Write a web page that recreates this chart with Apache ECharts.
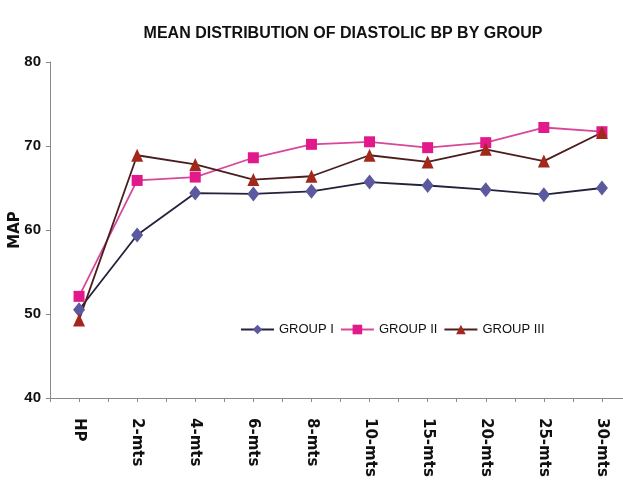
<!DOCTYPE html>
<html>
<head>
<meta charset="utf-8">
<script src="https://cdn.jsdelivr.net/npm/echarts@6/dist/echarts.min.js"></script>
<style>
  html, body { margin: 0; padding: 0; background: #fff; }
  #main { width: 623px; height: 495px; }
</style>
</head>
<body>
<div id="main"></div>
<script>
// time points
var categories = ['HP', '2-mts', '4-mts', '6-mts', '8-mts', '10-mts', '15-mts', '20-mts', '25-mts', '30-mts'];
// mean MAP per group
var group1 = [50.5, 59.4, 64.4, 64.3, 64.6, 65.7, 65.3, 64.8, 64.2, 65.0];
var group2 = [52.1, 65.9, 66.3, 68.6, 70.2, 70.5, 69.8, 70.4, 72.2, 71.7];
var group3 = [49.3, 68.9, 67.8, 66.0, 66.4, 68.9, 68.1, 69.6, 68.2, 71.6];
var yTicks = [40, 50, 60, 70, 80];

window.onload = () => {
    var chartDom = document.getElementById('main');
    var myChart = echarts.init(chartDom);
    var narrow = 'Liberation Sans Narrow, Arial Narrow, Liberation Sans, sans-serif';
    var option;
    option = {
        backgroundColor: '#ffffff',
        title: {
            text: 'MEAN DISTRIBUTION OF DIASTOLIC BP BY GROUP',
            left: 338,
            textAlign: 'center',
            top: 21,
            textStyle: {
                fontFamily: narrow,
                fontWeight: 'bold',
                fontSize: 16,
                color: '#111'
            }
        },
        legend: {
            left: 235,
            top: 318,
            itemWidth: 33,
            itemHeight: 12,
            itemGap: 6,
            textStyle: {
                fontFamily: narrow,
                fontSize: 13,
                color: '#111'
            },
            data: ['GROUP I', 'GROUP II', 'GROUP III']
        },
        grid: {
            left: 50,
            right: -8,
            top: 62,
            bottom: 97,
            outerBoundsMode: 'none',
            containLabel: false
        },
        xAxis: [{
            type: 'category',
            boundaryGap: true,
            data: categories,
            axisLine: { lineStyle: { color: '#8a8a8a', width: 1 } },
            axisTick: { show: true, interval: 0, length: 4, lineStyle: { color: '#8a8a8a' } },
            axisLabel: {
                interval: 0,
                rotate: -90,
                margin: 20,
                fontFamily: 'DejaVu Sans, sans-serif',
                fontWeight: 'bold',
                fontSize: 15,
                color: '#111'
            }
        }, {
            type: 'category',
            boundaryGap: true,
            position: 'bottom',
            data: categories,
            axisLine: { show: false },
            axisTick: { show: true, alignWithLabel: true, interval: 0, length: 4, lineStyle: { color: '#8a8a8a' } },
            axisLabel: { show: false }
        }],
        yAxis: [{
            type: 'value',
            min: yTicks[0],
            max: yTicks[yTicks.length - 1],
            interval: 10,
            name: 'MAP',
            nameLocation: 'middle',
            nameGap: 27,
            nameMoveOverlap: false,
            nameTextStyle: {
                fontFamily: 'DejaVu Sans, sans-serif',
                fontWeight: 'bold',
                fontSize: 15,
                color: '#111'
            },
            splitLine: { show: false },
            axisLine: { show: true, lineStyle: { color: '#8a8a8a', width: 1 } },
            axisTick: { show: true, length: 4, lineStyle: { color: '#8a8a8a' } },
            axisLabel: {
                margin: 9,
                fontFamily: narrow,
                fontWeight: 'bold',
                fontSize: 15,
                color: '#111'
            }
        }],
        series: [{
                name: 'GROUP I',
                type: 'line',
                data: group1,
                symbol: 'diamond',
                symbolSize: [12, 15],
                itemStyle: { color: '#5b5a9e' },
                lineStyle: { color: '#23223a', width: 1.8 }
            },
            {
                name: 'GROUP II',
                type: 'line',
                data: group2,
                symbol: 'rect',
                symbolSize: 11,
                itemStyle: { color: '#e2198b' },
                lineStyle: { color: '#d8489a', width: 1.8 }
            },
            {
                name: 'GROUP III',
                type: 'line',
                data: group3,
                symbol: 'triangle',
                symbolSize: [12, 13],
                itemStyle: { color: '#a3281c' },
                lineStyle: { color: '#4a1e1e', width: 1.8 }
            }
        ]
    };
    option && myChart.setOption(option);
}
</script>
</body>
</html>
